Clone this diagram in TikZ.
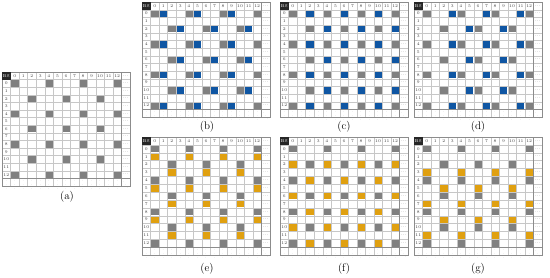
\documentclass[tikz,border=0pt]{standalone}
\definecolor{rsgray}{HTML}{808080}
\definecolor{rsblue}{HTML}{0F56A3}
\definecolor{rsorange}{HTML}{E0A010}
\newcommand{\cw}{8.53}
% marks at every pilot position, shifted by (#1 columns, #2 rows)
\newcommand{\rsmarks}[3]{%
  \foreach \r in {0,2,...,12}{\foreach \c in {0,2,...,12}{%
    \pgfmathtruncatemacro\s{mod(\r+\c,4)}%
    \pgfmathtruncatemacro\cc{\c+#1}%
    \pgfmathtruncatemacro\rr{\r+#2}%
    \ifnum\s=0 \ifnum\cc<13 \ifnum\rr<13
      \fill[#3] ({(\cc+1)*\cw+0.5},{(\rr+1)*\ch+0.5}) rectangle ({(\cc+2)*\cw-0.5},{(\rr+2)*\ch-0.5});
    \fi\fi\fi}}}
% one grid: x, y, row height, name, extra marks
\newcommand{\rspanel}[5]{%
  \begin{scope}[shift={(#1,#2)}]
    \def\ch{#3}
    \rsmarks{0}{0}{rsgray}
    #5
    \foreach \j in {0,...,15} \draw[gridline] ({\j*\cw},0) -- ({\j*\cw},{15*\ch});
    \foreach \i in {0,...,15} \draw[gridline] (0,{\i*\ch}) -- ({15*\cw},{\i*\ch});
    \draw[darkline] ({14*\cw},0) -- ({14*\cw},{15*\ch});
    \draw[darkline] (0,{14*\ch}) -- ({15*\cw},{14*\ch});
    \draw[darkline] (0,0) rectangle ({15*\cw},{15*\ch});
    \fill[black!85] (0,0) rectangle (\cw,\ch);
    \node[txt,text=white] (#4-bs) at ({0.5*\cw},{0.5*\ch}) {BS};
    \foreach \c in {0,...,12} \node[txt] (#4-h\c) at ({(\c+1.5)*\cw},{0.5*\ch}) {\c};
    \foreach \r in {0,...,12} \node[txt] (#4-v\r) at ({0.5*\cw},{(\r+1.5)*\ch}) {\r};
    \foreach \i in {0,...,13} \node[txt] (#4-e\i) at ({14.5*\cw},{(\i+0.5)*\ch}) {...};
    \foreach \j in {0,...,13} \node[dots] (#4-d\j) at ({(\j+0.5)*\cw},{14.5*\ch}) {$\vdots$};
    \node[dots] (#4-dd) at ({14.5*\cw},{14.5*\ch}) {$\ddots$};
  \end{scope}}
\tikzset{
  gridline/.style={draw=black!22, line width=0.3pt},
  darkline/.style={draw=black!45, line width=0.35pt},
  txt/.style={inner sep=0pt, font=\fontsize{4.2}{4.2}\selectfont, text=black!75},
  dots/.style={txt, font=\fontsize{3}{3}\selectfont},
  panellabel/.style={font=\fontsize{11}{11}\selectfont}
}
\begin{document}
\begin{tikzpicture}[x=1pt,y=-1pt]
  \useasboundingbox (0,0) rectangle (550,277);

  \rspanel{2}{72}{7.6}{a}{}
  \rspanel{142}{2}{7.67}{b}{\rsmarks{1}{0}{rsblue}}
  \rspanel{280}{2}{7.67}{c}{\rsmarks{2}{0}{rsblue}}
  \rspanel{414}{2}{7.67}{d}{\rsmarks{3}{0}{rsblue}}
  \rspanel{142}{137}{7.87}{e}{\rsmarks{0}{1}{rsorange}}
  \rspanel{280}{137}{7.87}{f}{\rsmarks{0}{2}{rsorange}}
  \rspanel{414}{137}{7.87}{g}{\rsmarks{0}{3}{rsorange}}

  \node[panellabel] (lab-a) at (67,197) {(a)};
  \node[panellabel] (lab-b) at (207,127) {(b)};
  \node[panellabel] (lab-c) at (344,127) {(c)};
  \node[panellabel] (lab-d) at (478,127) {(d)};
  \node[panellabel] (lab-e) at (207,269) {(e)};
  \node[panellabel] (lab-f) at (344,269) {(f)};
  \node[panellabel] (lab-g) at (478,269) {(g)};
\end{tikzpicture}
\end{document}
